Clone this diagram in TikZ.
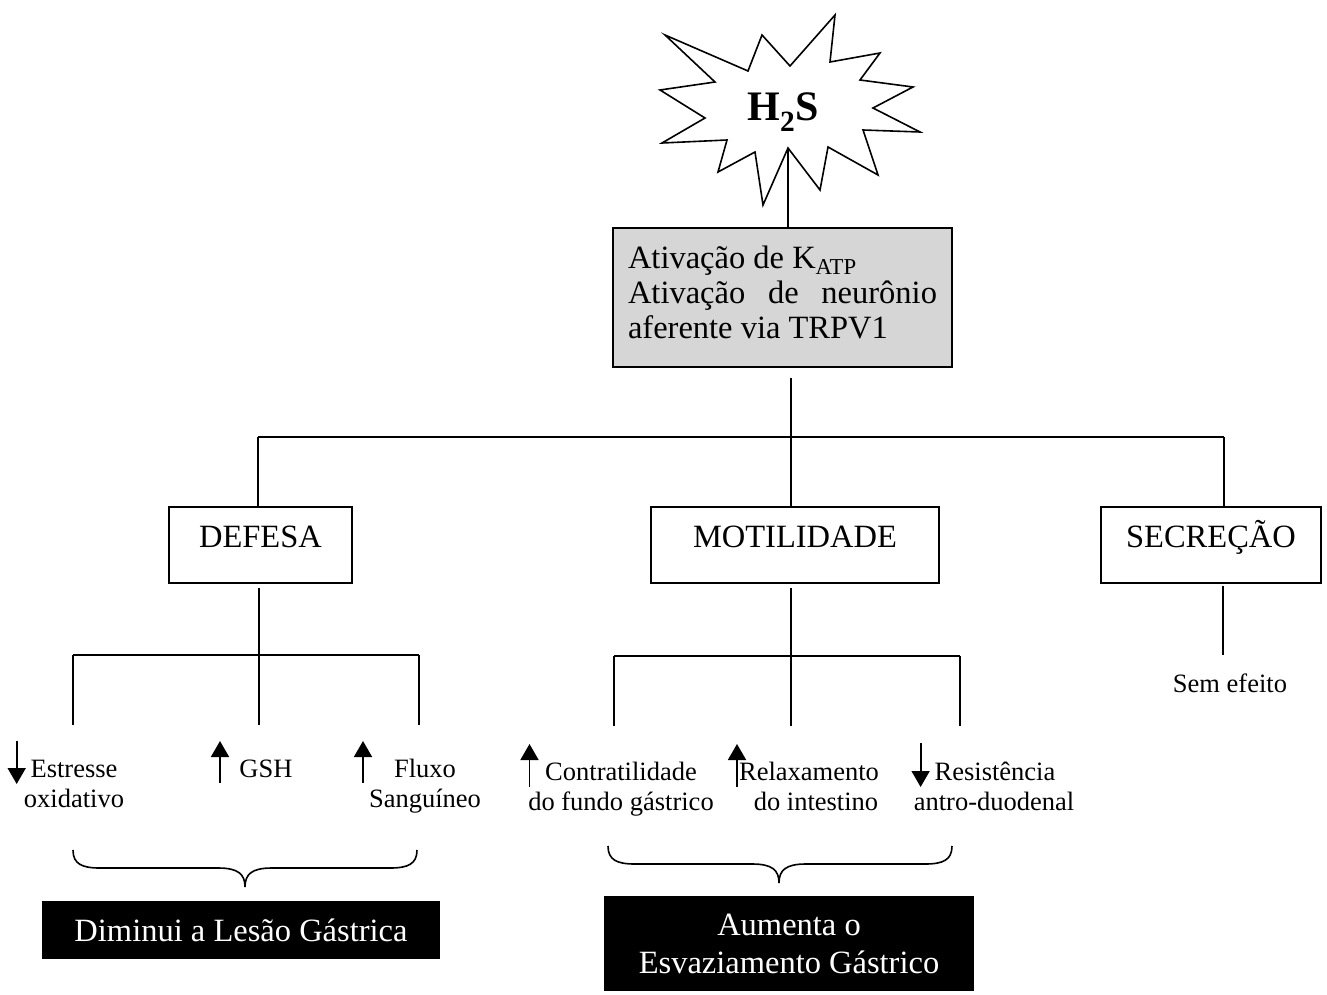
\documentclass[tikz,border=0pt]{standalone}
\usepackage{fontspec}
\setmainfont{Liberation Serif}
\usepackage{tikz}
\usetikzlibrary{arrows.meta, positioning, calc}

\begin{document}
\begin{tikzpicture}[x=1pt, y=-1pt, line width=1.8pt,
  box/.style={draw, line width=1.8pt, minimum height=76pt, text height=22pt, text depth=18pt, font=\fontsize{32.5}{35}\selectfont},
  result/.style={fill=black, text=white, align=center, inner sep=0pt, font=\fontsize{32.5}{38}\selectfont},
  item/.style={anchor=base, inner sep=0pt, font=\fontsize{26.5}{30}\selectfont},
  arr/.style={line width=1.8pt, -{Triangle[width=18pt,length=16pt]}}]
  \useasboundingbox (0,0) rectangle (1327,995);

  % H2S star
  \draw[line width=1.6pt, fill=white] (665,35) -- (748,71) -- (762,35) -- (790,66) -- (835,15) -- (830,62)
    -- (880,53) -- (860,80) -- (913,87) -- (873,108) -- (920,132) -- (863,130) -- (878,175)
    -- (828,147) -- (820,190) -- (788,148) -- (763,205) -- (755,152) -- (718,172) -- (727,140)
    -- (662,143) -- (705,118) -- (660,90) -- (715,82) -- cycle;
  \node (h2s) at (783,112) {\fontsize{42}{44}\selectfont\bfseries H\textsubscript{2}S};
  \coordinate (startip) at (788,148);

  % mechanism box
  \node[draw, fill=black!16, minimum width=339pt, minimum height=139pt, text width=309pt,
    align=justify, inner xsep=15pt, font=\fontsize{32.5}{35}\selectfont] (ativ) at (782.5,297.5)
    {Ativação de K\textsubscript{ATP}\\ Ativação de neurônio\linebreak aferente via TRPV1\rule[-11pt]{0pt}{11pt}};
  \draw (startip) -- (startip |- ativ.north);

  % first level
  \node[box, minimum width=183pt] (defesa) at (260.5,545) {DEFESA};
  \node[box, minimum width=288pt] (motil) at (795,545) {MOTILIDADE};
  \node[box, minimum width=220pt] (secre) at (1211,545) {SECREÇÃO};

  \coordinate (hub) at (791,437);
  \coordinate (bl) at (258,437);
  \coordinate (br) at (1224,437);
  \draw ($(ativ.south -| hub)+(0,10)$) -- (hub);
  \draw (bl) -- (br);
  \draw (bl) -- (bl |- defesa.north);
  \draw (hub) -- (hub |- motil.north);
  \draw (br) -- (br |- secre.north);

  % defesa branch
  \coordinate (dl) at (73,655);
  \coordinate (dj) at (259,655);
  \coordinate (dr) at (419,655);
  \draw ($(defesa.south -| dj)+(0,4)$) -- (dj);
  \draw (dl) -- (dr);
  \foreach \c in {dl, dj, dr}
    \draw (\c) -- ++(0,70);

  % motilidade branch
  \coordinate (ml) at (614,656);
  \coordinate (mj) at (791,656);
  \coordinate (mr) at (960,656);
  \draw ($(motil.south -| mj)+(0,4)$) -- (mj);
  \draw (ml) -- (mr);
  \foreach \c in {ml, mj, mr}
    \draw (\c) -- ++(0,70);

  % secrecao branch
  \node[item] (semef) at (1230,692) {Sem efeito};
  \coordinate (sj) at (1223,655);
  \draw ($(secre.south -| sj)+(0,2)$) -- (sj);

  % effects
  \node[item] (estr) at (74,777) {Estresse};
  \node[item] (oxid) at (74,807) {oxidativo};
  \node[item] (gsh) at (266,777) {GSH};
  \node[item] (flux) at (425,777) {Fluxo};
  \node[item] (sang) at (425,807) {Sanguíneo};
  \node[item] (contr) at (621,780) {Contratilidade};
  \node[item] (fundo) at (621,810) {do fundo gástrico};
  \node[item] (relax) at (809,780) {Relaxamento};
  \node[item] (intest) at (816,810) {do intestino};
  \node[item] (resist) at (995,780) {Resistência};
  \node[item] (antro) at (994,810) {antro-duodenal};

  \draw[arr] (16.7,741) -- (16.7,784);
  \draw[arr] (220,783) -- (220,741);
  \draw[arr] (363,783) -- (363,741);
  \draw[arr] (529.5,787) -- (529.5,744);
  \draw[arr] (737,787) -- (737,744);
  \draw[arr] (920.6,743) -- (920.6,787);

  % braces
  \draw[line width=1.6pt] (73,850) .. controls (73,864) and (82,868) .. (100,868) -- (218,868)
    .. controls (238,868) and (245,874) .. (245,887) .. controls (245,874) and (252,868) .. (272,868)
    -- (390,868) .. controls (408,868) and (417,864) .. (417,850);
  \draw[line width=1.6pt] (608,846) .. controls (608,860) and (617,864) .. (635,864) -- (752,864)
    .. controls (772,864) and (779,870) .. (779,883) .. controls (779,870) and (786,864) .. (806,864)
    -- (925,864) .. controls (943,864) and (952,860) .. (952,846);

  % results
  \node[result, minimum width=398pt, minimum height=58pt] (lesao) at (241,930) {Diminui a Lesão Gástrica};
  \node[result, minimum width=370pt, minimum height=95pt] (esvaz) at (789,943.5) {Aumenta o\\Esvaziamento Gástrico};
\end{tikzpicture}
\end{document}
